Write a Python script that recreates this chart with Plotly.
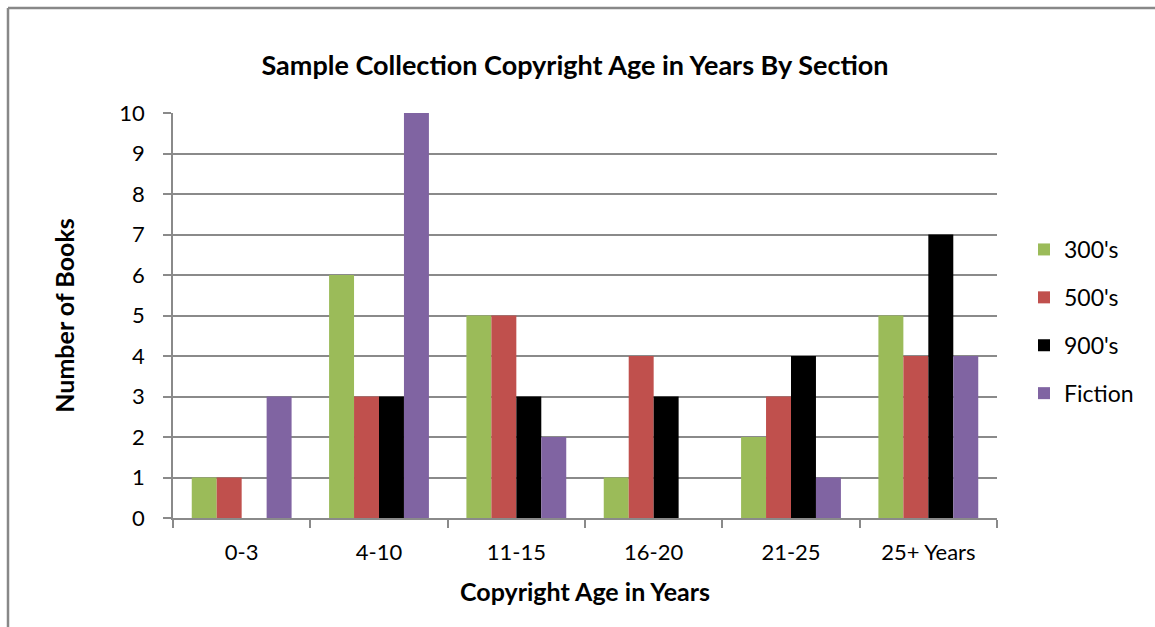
import plotly.graph_objects as go

# Copyright-age buckets and book counts per section
categories = ["0-3", "4-10", "11-15", "16-20", "21-25", "25+ Years"]
series_names = ["300's", "500's", "900's", "Fiction"]
books_300 = [1, 6, 5, 1, 2, 5]
books_500 = [1, 3, 5, 4, 3, 4]
books_900 = [0, 3, 3, 3, 4, 7]
books_fiction = [3, 10, 2, 0, 1, 4]
y_ticks = list(range(0, 11))

series_values = [books_300, books_500, books_900, books_fiction]
colors = ["#9BBB59", "#C0504D", "#000000", "#8064A2"]

FONT = "Lato"
GRID = "#8a8a8a"

fig = go.Figure()
for i, (name, vals, col) in enumerate(zip(series_names, series_values, colors)):
    fig.add_trace(go.Bar(
        name=name,
        x=categories,
        y=vals,
        marker=dict(color=col, line=dict(width=0)),
        legendgroup=f"g{i}",
    ))

W, H = 1155, 627
L, R, T, B = 173, 158, 113, 109
pw, ph = W - L - R, H - T - B


def px_x(px):
    return (px - L) / pw


def px_y(py):
    return (H - B - py) / ph


fig.update_layout(
    width=W,
    height=H,
    margin=dict(l=L, r=R, t=T, b=B),
    paper_bgcolor="white",
    plot_bgcolor="white",
    barmode="group",
    bargap=0.273,
    bargroupgap=0,
    font=dict(family=FONT, color="black", size=22),
    title=dict(
        text="<b>Sample Collection Copyright Age in Years By Section</b>",
        x=px_x(575), xref="paper", xanchor="center",
        y=1 - 66 / H, yanchor="middle",
        font=dict(family=FONT, size=27, color="black"),
    ),
    xaxis=dict(
        type="category",
        showgrid=False,
        showline=True,
        linecolor=GRID,
        linewidth=1.5,
        ticks="outside",
        tickson="boundaries",
        ticklen=8,
        tickcolor=GRID,
        tickwidth=1.5,
        ticklabelstandoff=14,
        tickfont=dict(family=FONT, size=22),
        title=dict(text="<b>Copyright Age in Years</b>",
                   font=dict(family=FONT, size=25), standoff=19),
    ),
    yaxis=dict(
        range=[0, 10],
        tickvals=y_ticks,
        showgrid=True,
        gridcolor=GRID,
        gridwidth=1.5,
        showline=True,
        linecolor=GRID,
        linewidth=1.5,
        ticks="outside",
        ticklen=8,
        tickcolor=GRID,
        tickwidth=1.5,
        ticklabelstandoff=14,
        zeroline=False,
        tickfont=dict(family=FONT, size=22),
        title=dict(text="<b>Number of Books</b>",
                   font=dict(family=FONT, size=25), standoff=38),
    ),
    legend=dict(
        x=px_x(1024), xanchor="left",
        y=px_y(228), yanchor="top",
        font=dict(family=FONT, size=23),
        tracegroupgap=15,
        itemwidth=30,
        bgcolor="rgba(0,0,0,0)",
    ),
    shapes=[
        dict(type="line", xref="paper", yref="paper",
             x0=px_x(8), x1=px_x(8), y0=px_y(8), y1=px_y(640),
             line=dict(color="#888888", width=2.5)),
        dict(type="line", xref="paper", yref="paper",
             x0=px_x(8), x1=px_x(1170), y0=px_y(8), y1=px_y(8),
             line=dict(color="#888888", width=2.5)),
    ],
)

fig.write_html("out.html")
